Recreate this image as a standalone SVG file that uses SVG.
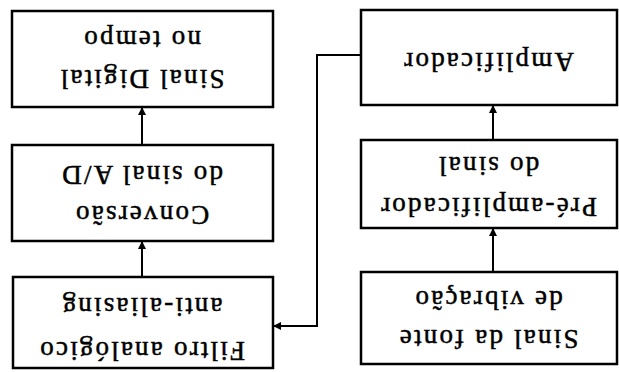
<svg xmlns="http://www.w3.org/2000/svg" width="619" height="372" viewBox="0 0 619 372">
<defs>
<marker id="ah" viewBox="0 0 10 10" refX="10" refY="5" markerWidth="4" markerHeight="4" orient="auto" markerUnits="strokeWidth">
<path d="M0,0 L10,5 L0,10 z" fill="#000"/>
</marker>
<style>
.box{fill:#fff;stroke:#000;stroke-width:2.5}
.t{font-family:"Liberation Serif","Times New Roman",serif;font-size:27px;letter-spacing:2.2px;text-anchor:middle;fill:#000;stroke:#000;stroke-width:0.5}
.c{fill:none;stroke:#000;stroke-width:2;marker-end:url(#ah)}
</style>
</defs>
<rect width="619" height="372" fill="#fff"/>
<g transform="rotate(180 309.5 186)">
<g id="fonte">
<rect class="box" x="2" y="8" width="256" height="92"/>
<text class="t" x="131" y="42">Sinal da fonte</text>
<text class="t" x="131" y="81">de vibração</text>
</g>
<g id="preamp">
<rect class="box" x="2" y="144" width="256" height="88"/>
<text class="t" x="131" y="174">Pré-amplificador</text>
<text class="t" x="131" y="215">do sinal</text>
</g>
<g id="amp">
<rect class="box" x="2" y="267" width="256" height="95"/>
<text class="t" x="131" y="319">Amplificador</text>
</g>
<g id="filtro">
<rect class="box" x="346" y="4" width="260" height="91"/>
<text class="t" x="477.5" y="30">Filtro analógico</text>
<text class="t" x="477.5" y="74">anti-aliasing</text>
</g>
<g id="conversao">
<rect class="box" x="346" y="131" width="261" height="96"/>
<text class="t" x="477.5" y="166">Conversão</text>
<text class="t" x="477.5" y="206">do sinal A/D</text>
</g>
<g id="digital">
<rect class="box" x="346" y="265" width="261" height="96"/>
<text class="t" x="477.5" y="302">Sinal Digital</text>
<text class="t" x="477.5" y="341">no tempo</text>
</g>
<g id="connectors">
<path class="c" d="M126,100 V144"/>
<path class="c" d="M126,232 V267"/>
<path class="c" d="M258,317 H302 V46 H346"/>
<path class="c" d="M477,95 V131"/>
<path class="c" d="M477,227 V265"/>
</g>
</g>
</svg>
